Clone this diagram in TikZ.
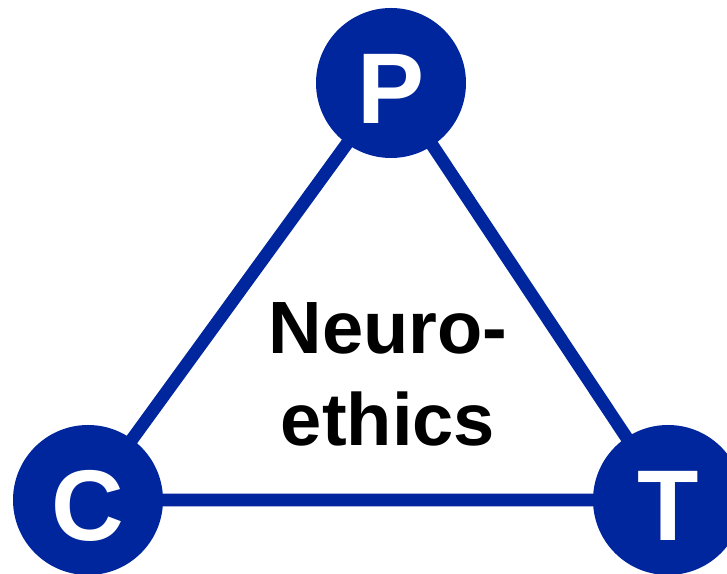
\documentclass[tikz,border=0pt]{standalone}
\usepackage{fontspec}
\setmainfont{Liberation Sans}
\usetikzlibrary{backgrounds}

\definecolor{triblue}{RGB}{0,38,158}

\begin{document}
\begin{tikzpicture}
  \useasboundingbox (0cm,0cm) rectangle (18.175cm,14.35cm);
  \clip (0cm,0cm) rectangle (18.175cm,14.35cm);
  \tikzset{corner/.style={circle, fill=triblue, draw=none, minimum size=3.75cm, inner sep=0pt,
      text=white, text height=58pt, text depth=0pt, font=\fontsize{71.5}{71.5}\selectfont\bfseries}}
  \node[corner] (P) at (9.775cm,12.275cm) {P};
  \node[corner] (C) at (2.2cm,1.85cm) {C};
  \node[corner] (T) at (16.7cm,1.85cm) {T};
  \begin{pgfonlayer}{background}
    \draw[triblue, line width=0.32cm] (C.center) -- (P.center) -- (T.center) -- (C.center);
  \end{pgfonlayer}
  \node[align=center, inner sep=0pt, font=\fontsize{52.7}{65.4}\selectfont\bfseries] (topic) at (9.7cm,4.99cm) {Neuro-\\ethics};
\end{tikzpicture}
\end{document}
